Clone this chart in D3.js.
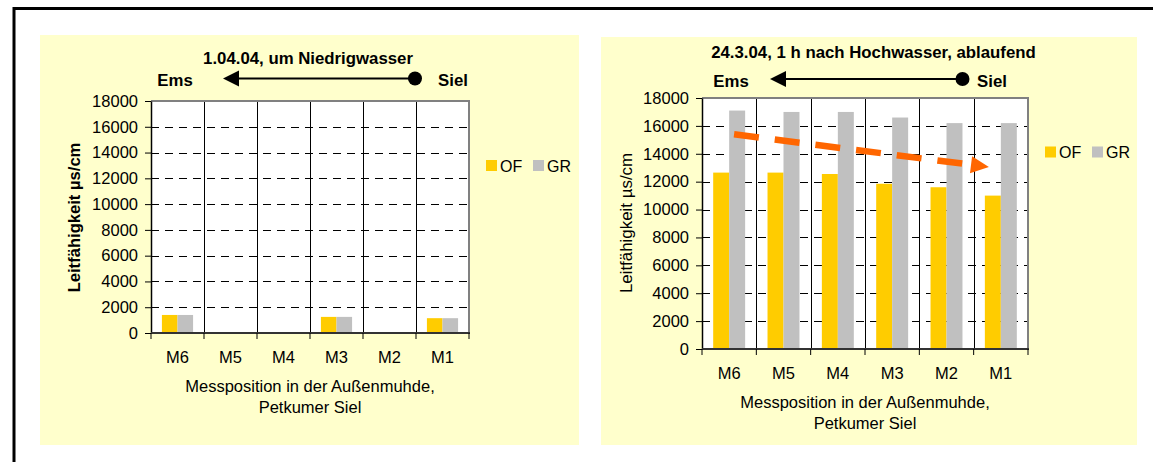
<!DOCTYPE html>
<html>
<head>
<meta charset="utf-8">
<script src="https://cdn.jsdelivr.net/npm/d3@7"></script>
<style>
  html, body { margin: 0; padding: 0; background: #ffffff; }
  svg { display: block; font-family: "Liberation Sans", Arial, sans-serif; }
</style>
</head>
<body>
<svg id="chart" width="1153" height="462"></svg>
<script>
// Messpositionen und Serien
const categories = ['M6', 'M5', 'M4', 'M3', 'M2', 'M1'];
const seriesNames = ['OF', 'GR'];
const seriesColors = ['#FFCC00', '#C0C0C0'];

// 1.04.04, um Niedrigwasser (M5, M4, M2 ohne Messung)
const lowOF = [1400, null, null, 1250, null, 1150];
const lowGR = [1400, null, null, 1250, null, 1150];

// 24.3.04, 1 h nach Hochwasser, ablaufend
const highOF = [12650, 12650, 12550, 11850, 11600, 11000];
const highGR = [17100, 17000, 17000, 16600, 16200, 16200];

// Trendpfeil im zweiten Diagramm (von M6 nach M1)
const trendCats = ['M6', 'M1'];
const trendValues = [15400, 13050];

const yTicks = [0, 2000, 4000, 6000, 8000, 10000, 12000, 14000, 16000, 18000];
const xTitleLines = ['Messposition in der Außenmuhde,', 'Petkumer Siel'];
const yTitle = 'Leitfähigkeit µs/cm';

const svg = d3.select('#chart');

// Rahmen
svg.append('path')
  .attr('d', 'M14,470 L14,8.5 L1160,8.5')
  .attr('fill', 'none').attr('stroke', '#000').attr('stroke-width', 3);

function drawPanel(cfg) {
  const g = svg.append('g');
  g.append('rect')
    .attr('x', cfg.bg[0]).attr('y', cfg.bg[1])
    .attr('width', cfg.bg[2]).attr('height', cfg.bg[3])
    .attr('fill', '#FFFFCC');

  const x = d3.scaleBand().domain(categories).range([cfg.x0, cfg.x1]).padding(0);
  const xs = d3.scaleBand().domain(seriesNames).range([0, x.bandwidth()])
    .paddingInner(0).paddingOuter(0.7);
  const y = d3.scaleLinear().domain([0, 18000]).range([cfg.y1, cfg.y0]);

  // Plotfläche
  g.append('rect')
    .attr('x', cfg.x0).attr('y', cfg.y0)
    .attr('width', cfg.x1 - cfg.x0).attr('height', cfg.y1 - cfg.y0)
    .attr('fill', '#fff');

  // horizontale Gitterlinien
  g.append('g').selectAll('line')
    .data(yTicks.filter(t => t > 0 && t < 18000))
    .join('line')
    .attr('x1', cfg.x0).attr('x2', cfg.x1)
    .attr('y1', d => Math.round(y(d)) + 0.5).attr('y2', d => Math.round(y(d)) + 0.5)
    .attr('stroke', '#000').attr('stroke-width', 1)
    .attr('stroke-dasharray', '8,6');

  // senkrechte Trennlinien zwischen den Positionen
  g.append('g').selectAll('line')
    .data(categories.slice(1))
    .join('line')
    .attr('x1', d => Math.round(x(d)) + 0.5).attr('x2', d => Math.round(x(d)) + 0.5)
    .attr('y1', cfg.y0).attr('y2', cfg.y1)
    .attr('stroke', '#000').attr('stroke-width', 1);

  // Balken
  const rows = categories.map((c, i) => ({ cat: c, values: [cfg.of[i], cfg.gr[i]] }));
  g.append('g').selectAll('g')
    .data(rows)
    .join('g')
    .attr('transform', d => `translate(${x(d.cat)},0)`)
    .selectAll('rect')
    .data(d => d.values.map((v, k) => ({ s: seriesNames[k], v, k })).filter(e => e.v != null))
    .join('rect')
    .attr('x', e => xs(e.s)).attr('width', xs.bandwidth())
    .attr('y', e => y(e.v)).attr('height', e => y(0) - y(e.v))
    .attr('fill', e => seriesColors[e.k]);

  // Rahmen oben/rechts
  g.append('path')
    .attr('d', `M${cfg.x0},${cfg.y0} L${cfg.x1},${cfg.y0} L${cfg.x1},${cfg.y1}`)
    .attr('fill', 'none').attr('stroke', '#808080').attr('stroke-width', 2);

  // y-Achse
  const yAxis = g.append('g')
    .attr('transform', `translate(${cfg.x0},0)`)
    .call(d3.axisLeft(y).tickValues(yTicks).tickSize(6).tickSizeOuter(0).tickPadding(7)
      .tickFormat(d3.format('d')));
  yAxis.select('.domain').attr('stroke', '#000').attr('stroke-width', 1.5);
  yAxis.selectAll('.tick line').attr('stroke', '#000');
  yAxis.selectAll('text')
    .attr('font-size', '16.5px').attr('fill', '#000')
    .attr('font-family', '"Liberation Sans", Arial, sans-serif');

  // x-Achse mit Teilstrichen an den Grenzen
  g.append('line')
    .attr('x1', cfg.x0).attr('x2', cfg.x1 + 1)
    .attr('y1', cfg.y1).attr('y2', cfg.y1)
    .attr('stroke', '#333').attr('stroke-width', 2);
  g.append('g').selectAll('line')
    .data(categories.concat(['end']))
    .join('line')
    .attr('x1', d => d === 'end' ? cfg.x1 : x(d))
    .attr('x2', d => d === 'end' ? cfg.x1 : x(d))
    .attr('y1', cfg.y1).attr('y2', cfg.y1 + 6)
    .attr('stroke', '#000').attr('stroke-width', 1);
  g.append('g').selectAll('text')
    .data(categories)
    .join('text')
    .attr('x', d => x(d) + x.bandwidth() / 2)
    .attr('y', cfg.catY)
    .attr('text-anchor', 'middle')
    .attr('font-size', '16.5px')
    .text(d => d);

  // Achsentitel
  const cx = (cfg.x0 + cfg.x1) / 2;
  g.append('g').selectAll('text')
    .data(xTitleLines)
    .join('text')
    .attr('x', cx)
    .attr('y', (d, i) => cfg.xTitleY + i * 21)
    .attr('text-anchor', 'middle')
    .attr('font-size', '16.5px')
    .text(d => d);

  g.append('text')
    .attr('transform', `translate(${cfg.yTitleX},${cfg.yTitleY}) rotate(-90)`)
    .attr('text-anchor', 'middle')
    .attr('font-size', cfg.yTitleBold ? '16.6px' : '16.9px')
    .attr('font-weight', cfg.yTitleBold ? 'bold' : 'normal')
    .text(yTitle);

  // Überschrift und Richtungspfeil Ems <- Siel
  g.append('text')
    .attr('x', cfg.titleX).attr('y', cfg.titleY)
    .attr('text-anchor', 'middle')
    .attr('font-size', '16.8px').attr('font-weight', 'bold')
    .text(cfg.title);
  g.append('text')
    .attr('x', cfg.emsX).attr('y', cfg.labelY)
    .attr('text-anchor', 'middle')
    .attr('font-size', '16.8px').attr('font-weight', 'bold')
    .text('Ems');
  g.append('text')
    .attr('x', cfg.sielX).attr('y', cfg.labelY)
    .attr('text-anchor', 'middle')
    .attr('font-size', '16.8px').attr('font-weight', 'bold')
    .text('Siel');
  g.append('line')
    .attr('x1', cfg.arrowX0 + 12).attr('x2', cfg.arrowX1)
    .attr('y1', cfg.arrowY).attr('y2', cfg.arrowY)
    .attr('stroke', '#000').attr('stroke-width', 2);
  g.append('path')
    .attr('d', `M${cfg.arrowX0},${cfg.arrowY} L${cfg.arrowX0 + 16},${cfg.arrowY - 8} L${cfg.arrowX0 + 16},${cfg.arrowY + 8} Z`)
    .attr('fill', '#000');
  g.append('circle')
    .attr('cx', cfg.arrowX1).attr('cy', cfg.arrowY).attr('r', 7)
    .attr('fill', '#000');

  // Legende
  const leg = g.append('g')
    .attr('transform', `translate(${cfg.x1 + 17},${cfg.legendY})`);
  seriesNames.forEach((s, i) => {
    leg.append('rect')
      .attr('x', i * 47).attr('y', -5.5)
      .attr('width', 11).attr('height', 11)
      .attr('fill', seriesColors[i]);
    leg.append('text')
      .attr('x', i * 47 + 14).attr('y', 6)
      .attr('font-size', '16px')
      .text(s);
  });

  return { g, x, y };
}

drawPanel({
  bg: [40, 35, 539, 410],
  x0: 151, x1: 469, y0: 101, y1: 333,
  of: lowOF, gr: lowGR,
  catY: 363, xTitleY: 392,
  yTitleX: 80, yTitleY: 217.5, yTitleBold: true,
  title: '1.04.04, um Niedrigwasser', titleX: 308, titleY: 63.5,
  emsX: 175, sielX: 453, labelY: 86,
  arrowX0: 223, arrowX1: 415, arrowY: 78.5,
  legendY: 165.5
});

const right = drawPanel({
  bg: [601, 37, 536, 408],
  x0: 702, x1: 1028, y0: 98, y1: 349,
  of: highOF, gr: highGR,
  catY: 379, xTitleY: 408,
  yTitleX: 632, yTitleY: 223, yTitleBold: false,
  title: '24.3.04, 1 h nach Hochwasser, ablaufend', titleX: 873.5, titleY: 58,
  emsX: 731, sielX: 992, labelY: 87,
  arrowX0: 770, arrowX1: 962.5, arrowY: 79,
  legendY: 152
});

// orangefarbener Trendpfeil
(function () {
  const { g, x, y } = right;
  const bw = x.bandwidth();
  const p0 = [x(trendCats[0]) + bw * 0.59, y(trendValues[0])];
  const p1 = [x(trendCats[1]) + bw * 0.28, y(trendValues[1])];
  const ang = Math.atan2(p1[1] - p0[1], p1[0] - p0[0]);
  const headLen = 18, headHalf = 8.5;
  const back = [p1[0] - headLen * Math.cos(ang), p1[1] - headLen * Math.sin(ang)];
  const stop = [back[0] - 4 * Math.cos(ang), back[1] - 4 * Math.sin(ang)];
  g.append('line')
    .attr('x1', p0[0]).attr('y1', p0[1])
    .attr('x2', stop[0]).attr('y2', stop[1])
    .attr('stroke', '#FF6600').attr('stroke-width', 6.5)
    .attr('stroke-dasharray', '25,16');
  const nx = -Math.sin(ang), ny = Math.cos(ang);
  g.append('path')
    .attr('d', `M${p1[0]},${p1[1]} L${back[0] + nx * headHalf},${back[1] + ny * headHalf} L${back[0] - nx * headHalf},${back[1] - ny * headHalf} Z`)
    .attr('fill', '#FF6600');
})();
</script>
</body>
</html>
